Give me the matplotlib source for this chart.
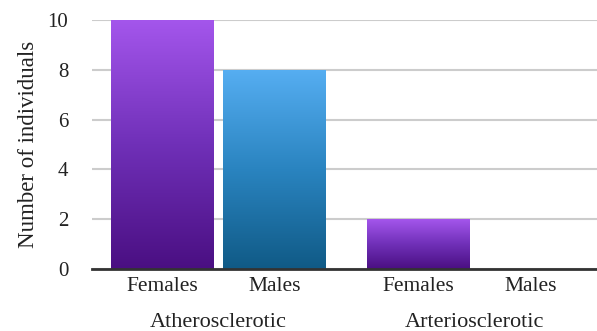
import numpy as np
import matplotlib
matplotlib.use("Agg")
import matplotlib.pyplot as plt
from matplotlib.colors import LinearSegmentedColormap
from matplotlib.transforms import blended_transform_factory

groups = ["Atherosclerotic", "Arteriosclerotic"]
sexes = ["Females", "Males"]
counts = [[10, 8], [2, 0]]
yticks = [0, 2, 4, 6, 8, 10]

plt.rcParams["font.family"] = ["Liberation Serif", "DejaVu Serif"]

fig = plt.figure(figsize=(5.97, 3.31), dpi=100)
ax = fig.add_axes([0.154, 0.187, 0.846, 0.753])

# gradients: bottom colour -> top colour
cmaps = {
    "Females": LinearSegmentedColormap.from_list("f", ["#4a0f82", "#7030b8", "#a456ec"]),
    "Males": LinearSegmentedColormap.from_list("m", ["#105a86", "#2a84c0", "#56aef2"]),
}

width = 1.0
pos, labels = [], []
grad = np.linspace(0, 1, 256).reshape(-1, 1)
for gi, g in enumerate(groups):
    for si, s in enumerate(sexes):
        x = gi * 2.51 + si * 1.1
        pos.append(x)
        labels.append(s)
        v = counts[gi][si]
        if v <= 0:
            continue
        bar = ax.bar(x, v, width=width, color="none", edgecolor="none", zorder=2)[0]
        im = ax.imshow(grad, cmap=cmaps[s], origin="lower", aspect="auto",
                       extent=[x - width / 2, x + width / 2, 0, v], zorder=2)
        im.set_clip_path(bar)

ax.set_xlim(-0.686, 4.26)
ax.set_ylim(0, 10)
ax.set_yticks(yticks)
ax.yaxis.grid(True, color="#cccccc", lw=1.5, zorder=0)
ax.set_axisbelow(True)
for sp in ["top", "right", "left"]:
    ax.spines[sp].set_visible(False)
ax.spines["bottom"].set_color("#333333")
ax.spines["bottom"].set_linewidth(2)
ax.spines["bottom"].set_zorder(3)
ax.tick_params(axis="y", length=0, pad=17, labelsize=15, labelcolor="#222222")
ax.tick_params(axis="x", length=0, pad=6, labelsize=15.5, labelcolor="#222222")
ax.set_xticks(pos)
ax.set_xticklabels(labels)

trans = blended_transform_factory(ax.transData, ax.transAxes)
for gi, g in enumerate(groups):
    c = (pos[gi * 2] + pos[gi * 2 + 1]) / 2
    ax.text(c, -0.215, g, transform=trans, ha="center", va="center",
            fontsize=16, color="#222222")

ax.set_ylabel("Number of individuals", fontsize=16.5, labelpad=6, color="#222222")

fig.savefig("out.png", dpi=100)
